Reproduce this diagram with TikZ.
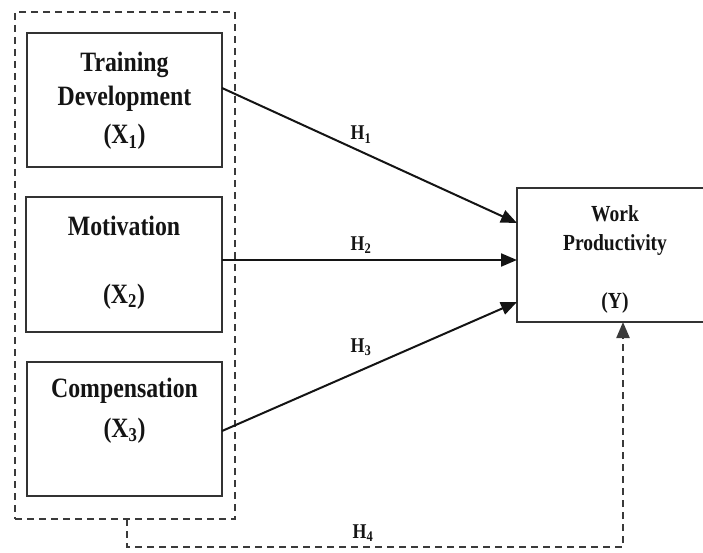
\documentclass[tikz,border=0pt]{standalone}
\usepackage{fontspec}
\setmainfont{Liberation Serif}[FakeStretch=0.85]
\usetikzlibrary{arrows.meta,calc}
\definecolor{boxgray}{HTML}{333333}
\definecolor{dashgray}{HTML}{3A3A3A}
\definecolor{txtblack}{HTML}{141414}
\begin{document}
\begin{tikzpicture}[x=1pt,y=-1pt,
  varbox/.style={draw=boxgray, line width=2.5pt, inner sep=0pt, outer sep=0pt},
  grpbox/.style={draw=dashgray, line width=2.3pt, dash pattern=on 7pt off 5pt, inner sep=0pt, outer sep=0pt},
  bigtxt/.style={anchor=base, inner sep=0pt, text=txtblack, font=\fontsize{28}{30}\selectfont\bfseries},
  ytxt/.style={anchor=base, inner sep=0pt, text=txtblack, font=\fontsize{23}{25}\selectfont\bfseries},
  htxt/.style={anchor=base, inner sep=0pt, text=txtblack, font=\fontsize{21}{23}\selectfont\bfseries},
  link/.style={draw=txtblack, line width=2pt, -{Triangle[length=16pt,width=13pt]}},
  dlink/.style={draw=dashgray, line width=2.3pt, dash pattern=on 7pt off 5pt, -{Triangle[length=16pt,width=13pt]}}
]
\useasboundingbox (0,0) rectangle (703,553);
\clip (0,0) rectangle (703,553);

% group box
\node[grpbox, minimum width=220pt, minimum height=507pt] (grp) at (125,265.5) {};

% variable boxes
\node[varbox, minimum width=195pt, minimum height=134pt] (b1) at (124.5,100) {};
\node[varbox, minimum width=196pt, minimum height=135pt] (b2) at (124,264.5) {};
\node[varbox, minimum width=195pt, minimum height=134pt] (b3) at (124.5,429) {};
\node[varbox, minimum width=196pt, minimum height=134pt] (y) at (615,255) {};

% texts
\node[bigtxt] (t1a) at (124.5,72) {Training};
\node[bigtxt] (t1b) at (124.5,106) {Development};
\node[bigtxt] (t1c) at (124.5,144) {(X\textsubscript{1})};
\node[bigtxt] (t2a) at (124,235) {Motivation};
\node[bigtxt] (t2b) at (124,303) {(X\textsubscript{2})};
\node[bigtxt] (t3a) at (124.5,397) {Compensation};
\node[bigtxt] (t3b) at (124.5,437) {(X\textsubscript{3})};
\node[ytxt] (tya) at (615,222) {Work};
\node[ytxt] (tyb) at (615,250) {Productivity};
\node[ytxt] (tyc) at (615,308) {(Y)};

% connectors
\draw[link] ($(b1.east)+(0,-12)$) -- ($(y.west)+(0,-32)$);
\draw[link] ($(b2.east)+(0,-4.5)$) -- ($(y.west)+(0,5)$);
\draw[link] ($(b3.east)+(0,2)$) -- ($(y.west)+(0,47)$);
\draw[dlink] ($(grp.south)+(2,0)$) -- ++(0,28) -| ($(y.south)+(8,0)$);

% hypothesis labels
\node[htxt] (h1) at (361,140) {H\textsubscript{1}};
\node[htxt] (h2) at (361,250) {H\textsubscript{2}};
\node[htxt] (h3) at (361,352) {H\textsubscript{3}};
\node[htxt] (h4) at (363,538) {H\textsubscript{4}};
\end{tikzpicture}
\end{document}
